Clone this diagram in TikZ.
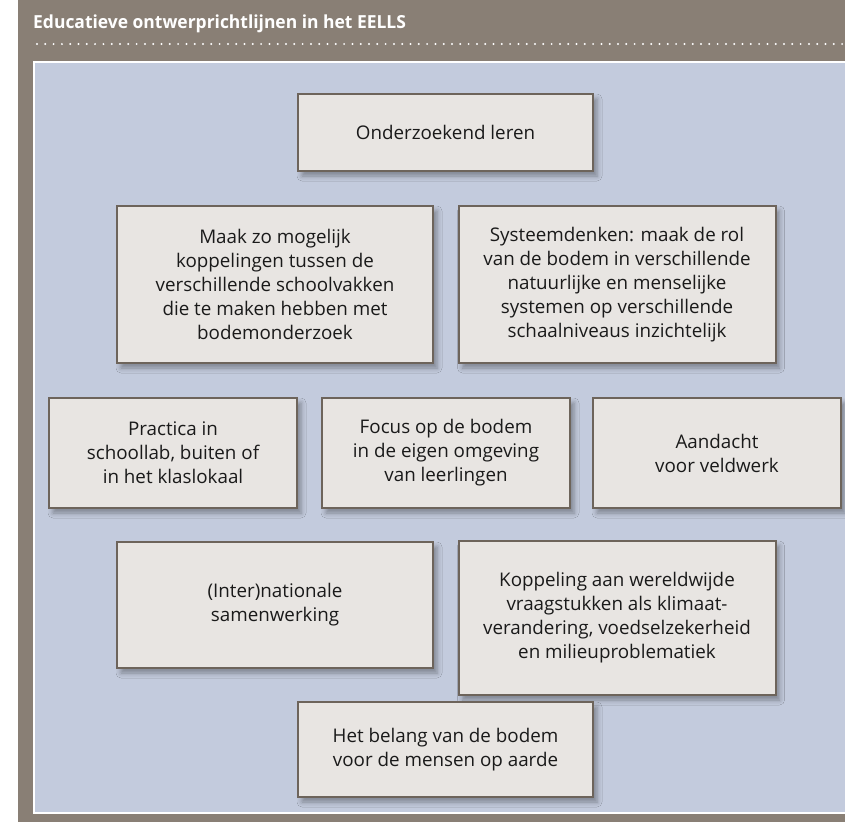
\documentclass[tikz,border=0pt]{standalone}
\usepackage{fontspec}
\setmainfont{Open Sans}
\newfontfamily\hdrfont[FakeStretch=0.97]{Open Sans}
\usetikzlibrary{shadows.blur}
\definecolor{framec}{HTML}{897F75}
\definecolor{panelc}{HTML}{C3CBDD}
\definecolor{boxfill}{HTML}{E8E5E2}
\definecolor{boxline}{HTML}{6D645B}
\definecolor{textc}{HTML}{1A1A1A}
\begin{document}
\begin{tikzpicture}[x=1pt,y=-1pt,
  box/.style={draw=boxline, line width=2pt, fill=boxfill, align=center, inner sep=0pt,
    text=textc, font=\fontsize{18.8}{24}\selectfont,
    blur shadow={shadow xshift=4pt, shadow yshift=-5pt, shadow blur radius=5pt, shadow opacity=35}},
  titletext/.style={anchor=base west, text=white, inner sep=0pt, font=\hdrfont\bfseries\fontsize{18}{20}\selectfont}]
\useasboundingbox (0,0) rectangle (845,822);
\fill[white] (0,0) rectangle (845,822);
\fill[framec] (18,0) rectangle (845,822);
\draw[white, line width=2pt, fill=panelc] (34,62) rectangle (852,813);
\node[titletext] (title) at (33,28) {Educatieve ontwerprichtlijnen in het EELLS};
\draw[white, line width=2.2pt, line cap=round, dash pattern=on 0pt off 8.3pt] (37,44) -- (845,44);

\node[box, minimum width=295, minimum height=77] (b1) at (445.5,132.5) {Onderzoekend leren};
\node[box, minimum width=316, minimum height=157] (b2) at (275,284.5) {Maak zo mogelijk\\koppelingen tussen de\\verschillende schoolvakken\\die te maken hebben met\\bodemonderzoek};
\node[box, minimum width=317, minimum height=157] (b3) at (617,284.5) {Systeemdenken: maak de rol\\van de bodem in verschillende\\natuurlijke en menselijke\\systemen op verschillende\\schaalniveaus inzichtelijk};
\node[box, minimum width=248, minimum height=110] (b4) at (173,453) {Practica in\\schoollab, buiten of\\in het klaslokaal};
\node[box, minimum width=248, minimum height=110] (b5) at (446,453) {Focus op de bodem\\in de eigen omgeving\\van leerlingen};
\node[box, minimum width=248, minimum height=110] (b6) at (717,453) {Aandacht\\voor veldwerk};
\node[box, minimum width=316, minimum height=126] (b7) at (275,605) {(Inter)nationale\\samenwerking};
\node[box, minimum width=317, minimum height=154] (b8) at (617,618) {Koppeling aan wereldwijde\\vraagstukken als klimaat-\\verandering, voedselzekerheid\\en milieuproblematiek};
\node[box, minimum width=295, minimum height=95] (b9) at (445.5,749.5) {Het belang van de bodem\\voor de mensen op aarde};
\end{tikzpicture}
\end{document}
